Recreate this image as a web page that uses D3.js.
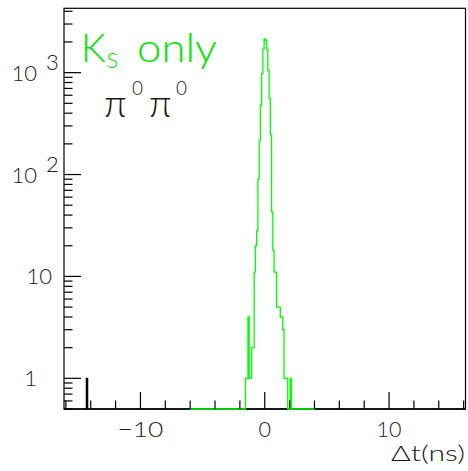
<!DOCTYPE html>
<html>
<head>
<meta charset="utf-8">
<script src="https://cdn.jsdelivr.net/npm/d3@7"></script>
<style>
  html, body { margin: 0; padding: 0; background: #fff; }
  svg text { font-family: Lato, "Liberation Sans", "DejaVu Sans", sans-serif; font-weight: 300; }
</style>
</head>
<body>
<svg id="chart" width="468" height="471"></svg>
<script>
// Histogram range and bin width (ns)
const xRange = [-16.15, 16.15];
const binWidth = 0.1;

// K_S-only time difference spectrum (green), filled range and non-empty bins
const ksRange = [-6.05, 4.05];
const ksCenters = [-1.5, -1.4, -1.3, -1.2, -1.1, -1.0, -0.9, -0.8, -0.7, -0.6,
                   -0.5, -0.4, -0.3, -0.2, -0.1, 0.0, 0.1, 0.2, 0.3, 0.4,
                   0.5, 0.6, 0.7, 0.8, 0.9, 1.0, 1.1, 1.2, 1.3, 1.4,
                   1.5, 1.6, 1.7, 1.8, 1.9, 2.0, 2.1];
const ksCounts  = [1, 1, 4, 1, 1, 2, 2, 11, 20, 28,
                   90, 214, 480, 980, 1700, 2140, 2080, 1700, 1045, 560,
                   245, 43, 18, 11, 11, 5, 5, 5, 4, 4,
                   3, 1, 1, 1, 0, 0, 1];

// pi0 pi0 sample outside the K_S window (black)
const allCenters = [-14.3];
const allCounts  = [1];

// Axis ticks and labels
const xMajor = [-10, 0, 10];
const xLabels = ["\u221210", "0", "10"];
const xMinorStep = 2;
const yDomain = [0.5, 4280];
const yMajor = [1, 10, 100, 1000];
const yBase = ["1", "10", "10", "10"];
const yExp = ["", "", "2", "3"];

const frame = { left: 64, right: 465.5, top: 8.3, bottom: 409 };
const ink = "#1a1a1a";
const green = "#00e600";
const svg = d3.select("#chart");

const x = d3.scaleLinear().domain(xRange).range([frame.left, frame.right]);
const y = d3.scaleLog().domain(yDomain).range([frame.bottom, frame.top]);

// Bin edges and contents of a step histogram over a range
function histPoints(range, centers, counts) {
  const n = Math.round((range[1] - range[0]) / binWidth);
  const vals = new Array(n).fill(0);
  centers.forEach((c, i) => {
    const k = Math.floor((c - range[0]) / binWidth + 1e-6);
    if (k >= 0 && k < n) vals[k] += counts[i];
  });
  const pts = [[range[0], 0]];
  for (let k = 0; k < n; k++) pts.push([range[0] + k * binWidth, vals[k]]);
  pts.push([range[1], vals[n - 1]]);
  pts.push([range[1], 0]);
  return pts;
}

// Empty bins sit on the lower edge of the log frame
const yOf = v => v > yDomain[0] ? y(v) : y(yDomain[0]);
const stepLine = d3.line()
  .x(d => x(d[0]))
  .y(d => yOf(d[1]))
  .curve(d3.curveStepAfter);

// Frame
svg.append("rect")
  .attr("x", frame.left).attr("y", frame.top)
  .attr("width", frame.right - frame.left)
  .attr("height", frame.bottom - frame.top)
  .attr("fill", "none").attr("stroke", "#000").attr("stroke-width", 1.2);

// Histograms
svg.append("path")
  .attr("d", stepLine(histPoints(xRange, allCenters, allCounts)))
  .attr("fill", "none").attr("stroke", "#000").attr("stroke-width", 1.3);

svg.append("path")
  .attr("d", stepLine(histPoints(ksRange, ksCenters, ksCounts)))
  .attr("fill", "none").attr("stroke", "#00ff00").attr("stroke-width", 1.3);

// X axis ticks
const xTicks = d3.range(-16, 16.01, xMinorStep)
  .filter(t => x(t) > frame.left + 1 && x(t) < frame.right - 1);
svg.append("g").selectAll("line").data(xTicks).join("line")
  .attr("x1", d => x(d)).attr("x2", d => x(d))
  .attr("y1", frame.bottom)
  .attr("y2", d => frame.bottom - (xMajor.includes(d) ? 17 : 8.5))
  .attr("stroke", "#000").attr("stroke-width", 1.2);

const xLabelWidth = [46, 12.5, 25];
svg.append("g").selectAll("text").data(xMajor).join("text")
  .attr("x", (d, i) => x(d) - xLabelWidth[i] / 2).attr("y", 437)
  .attr("font-size", 22).attr("fill", ink)
  .attr("textLength", (d, i) => xLabelWidth[i])
  .attr("lengthAdjust", "spacingAndGlyphs")
  .text((d, i) => xLabels[i]);

svg.append("text")
  .attr("x", 391).attr("y", 461)
  .attr("font-size", 22).attr("fill", ink)
  .attr("textLength", 74).attr("lengthAdjust", "spacingAndGlyphs")
  .text("\u0394t(ns)");

// Y axis ticks (log decades with 2..9 subdivisions)
const yTicks = [];
[0.1, 1, 10, 100, 1000].forEach(dec => {
  for (let m = 1; m < 10; m++) {
    const v = dec * m;
    if (v >= yDomain[0] && v <= yDomain[1]) yTicks.push(v);
  }
});
svg.append("g").selectAll("line").data(yTicks).join("line")
  .attr("y1", d => y(d)).attr("y2", d => y(d))
  .attr("x1", frame.left)
  .attr("x2", d => frame.left + (yMajor.includes(d) ? 17 : 8.5))
  .attr("stroke", "#000").attr("stroke-width", 1.2);

// Decade labels: plain numbers for 1 and 10, powers of ten above
const yLabelRight = [37, 52, 37, 37];
svg.append("g").selectAll("text").data(yMajor).join("text")
  .attr("x", (d, i) => yLabelRight[i]).attr("y", d => y(d) + 8)
  .attr("text-anchor", "end")
  .attr("font-size", 22).attr("fill", ink)
  .text((d, i) => yBase[i]);
svg.append("g").selectAll("text").data(yMajor.filter((d, i) => yExp[i])).join("text")
  .attr("x", 46).attr("y", d => y(d) - 3)
  .attr("font-size", 22).attr("fill", ink)
  .text(d => yExp[yMajor.indexOf(d)]);

// Sample labels
const ks = svg.append("text").attr("x", 81).attr("y", 62)
  .attr("fill", green).attr("font-size", 39);
ks.append("tspan").text("K");
ks.append("tspan").attr("x", 106.5).attr("dy", 6).attr("font-size", 22).text("S");
ks.append("tspan").attr("x", 137).attr("dy", -6)
  .attr("textLength", 80).attr("lengthAdjust", "spacingAndGlyphs")
  .text("only");

const pp = svg.append("text").attr("x", 104).attr("y", 117)
  .attr("fill", ink).attr("font-size", 38);
pp.append("tspan").text("\u03c0");
pp.append("tspan").attr("x", 132).attr("dy", -22).attr("font-size", 19).text("0");
pp.append("tspan").attr("x", 149).attr("dy", 22).text("\u03c0");
pp.append("tspan").attr("x", 176).attr("dy", -22).attr("font-size", 19).text("0");
</script>
</body>
</html>
